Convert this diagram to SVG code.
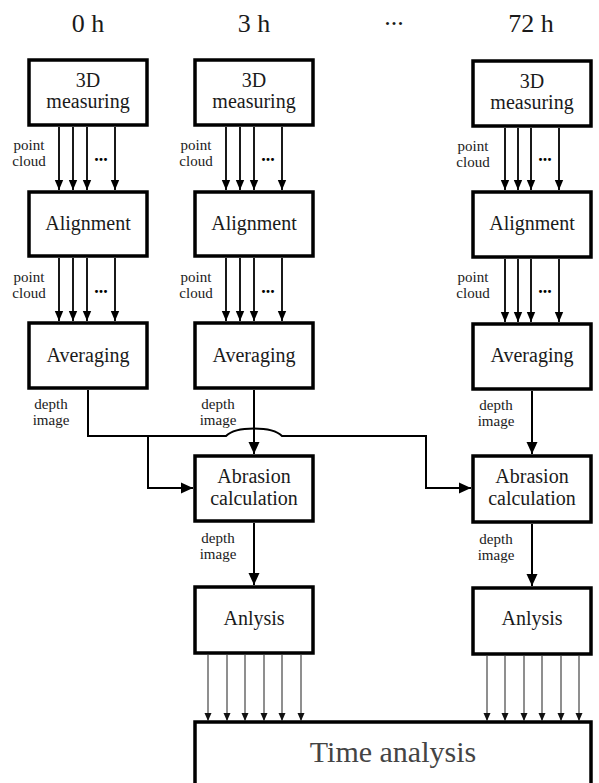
<svg xmlns="http://www.w3.org/2000/svg" width="599" height="783" viewBox="0 0 599 783">
<defs>
<marker id="ah" markerUnits="userSpaceOnUse" markerWidth="12" markerHeight="12" viewBox="0 0 12 12" refX="12" refY="6" orient="auto">
<path d="M0,0.5 L12,6 L0,11.5 Z" fill="#000"/>
</marker>
<marker id="ahs" markerUnits="userSpaceOnUse" markerWidth="10" markerHeight="10" viewBox="0 0 10 10" refX="10" refY="5" orient="auto">
<path d="M0,0.8 L10,5 L0,9.2 Z" fill="#000"/>
</marker>
<marker id="aht" markerUnits="userSpaceOnUse" markerWidth="8" markerHeight="8" viewBox="0 0 8 8" refX="8" refY="4" orient="auto">
<path d="M0,0.5 L8,4 L0,7.5 Z" fill="#111"/>
</marker>
</defs>
<style>
.box{fill:#fff;stroke:#000;stroke-width:3.5}
text{font-family:'Liberation Serif','DejaVu Serif',serif}
.t{font-size:20px;fill:#1a1a1a;text-anchor:middle}
.h{font-size:26px;fill:#1a1a1a;text-anchor:middle}
.s{font-size:15px;fill:#1a1a1a;text-anchor:middle}
.d{font-size:18px;font-weight:bold;fill:#000;text-anchor:middle}
.big{font-size:30px;fill:#444;text-anchor:middle}
.c{fill:none;stroke:#000;stroke-width:2}
.cs{fill:none;stroke:#000;stroke-width:1.8}
.ct{fill:none;stroke:#333;stroke-width:1.1}
</style>

<g id="headers">
<text class="h" x="88" y="32">0 h</text>
<text class="h" x="254" y="32">3 h</text>
<text class="h" x="394" y="25">...</text>
<text class="h" x="531" y="32">72 h</text>
</g>

<!-- Column 1 -->
<g id="meas1"><rect class="box" x="29" y="60" width="118" height="65"/><text class="t" x="88" y="87">3D</text><text class="t" x="88" y="108">measuring</text></g>
<g id="align1"><rect class="box" x="29" y="192" width="118" height="64"/><text class="t" x="88" y="230">Alignment</text></g>
<g id="avg1"><rect class="box" x="29" y="323" width="118" height="65"/><text class="t" x="88" y="362">Averaging</text></g>

<!-- Column 2 -->
<g id="meas2"><rect class="box" x="195" y="60" width="118" height="65"/><text class="t" x="254" y="87">3D</text><text class="t" x="254" y="108">measuring</text></g>
<g id="align2"><rect class="box" x="195" y="192" width="118" height="64"/><text class="t" x="254" y="230">Alignment</text></g>
<g id="avg2"><rect class="box" x="195" y="323" width="118" height="65"/><text class="t" x="254" y="362">Averaging</text></g>
<g id="abr2"><rect class="box" x="195" y="456" width="118" height="65"/><text class="t" x="254" y="483">Abrasion</text><text class="t" x="254" y="505">calculation</text></g>
<g id="anl2"><rect class="box" x="195" y="587" width="118" height="66"/><text class="t" x="254" y="625">Anlysis</text></g>

<!-- Column 3 -->
<g id="meas3"><rect class="box" x="473" y="61" width="118" height="65"/><text class="t" x="532" y="88">3D</text><text class="t" x="532" y="109">measuring</text></g>
<g id="align3"><rect class="box" x="473" y="192" width="118" height="65"/><text class="t" x="532" y="230">Alignment</text></g>
<g id="avg3"><rect class="box" x="473" y="324" width="118" height="65"/><text class="t" x="532" y="362">Averaging</text></g>
<g id="abr3"><rect class="box" x="473" y="456" width="118" height="66"/><text class="t" x="532" y="483">Abrasion</text><text class="t" x="532" y="505">calculation</text></g>
<g id="anl3"><rect class="box" x="473" y="588" width="118" height="66"/><text class="t" x="532" y="625">Anlysis</text></g>

<g id="time"><rect class="box" x="195" y="722" width="396" height="80"/><text class="big" x="393" y="762">Time analysis</text></g>

<g id="labels">
<text class="s" x="29" y="150">point</text><text class="s" x="29" y="166">cloud</text>
<text class="s" x="29" y="282">point</text><text class="s" x="29" y="298">cloud</text>
<text class="s" x="196" y="150">point</text><text class="s" x="196" y="166">cloud</text>
<text class="s" x="196" y="282">point</text><text class="s" x="196" y="298">cloud</text>
<text class="s" x="473" y="151">point</text><text class="s" x="473" y="167">cloud</text>
<text class="s" x="473" y="282">point</text><text class="s" x="473" y="298">cloud</text>
<text class="s" x="51" y="409">depth</text><text class="s" x="51" y="425">image</text>
<text class="s" x="218" y="409">depth</text><text class="s" x="218" y="425">image</text>
<text class="s" x="496" y="410">depth</text><text class="s" x="496" y="426">image</text>
<text class="s" x="218" y="543">depth</text><text class="s" x="218" y="559">image</text>
<text class="s" x="496" y="544">depth</text><text class="s" x="496" y="560">image</text>
<text class="d" x="101" y="161">...</text>
<text class="d" x="101" y="293">...</text>
<text class="d" x="268" y="161">...</text>
<text class="d" x="268" y="293">...</text>
<text class="d" x="545" y="161">...</text>
<text class="d" x="545" y="293">...</text>
</g>

<g id="connectors">
<line class="cs" x1="59" y1="127" x2="59" y2="190" marker-end="url(#ahs)"/>
<line class="cs" x1="73" y1="127" x2="73" y2="190" marker-end="url(#ahs)"/>
<line class="cs" x1="87" y1="127" x2="87" y2="190" marker-end="url(#ahs)"/>
<line class="cs" x1="115" y1="127" x2="115" y2="190" marker-end="url(#ahs)"/>
<line class="cs" x1="59" y1="258" x2="59" y2="321" marker-end="url(#ahs)"/>
<line class="cs" x1="73" y1="258" x2="73" y2="321" marker-end="url(#ahs)"/>
<line class="cs" x1="87" y1="258" x2="87" y2="321" marker-end="url(#ahs)"/>
<line class="cs" x1="115" y1="258" x2="115" y2="321" marker-end="url(#ahs)"/>
<line class="cs" x1="226" y1="127" x2="226" y2="190" marker-end="url(#ahs)"/>
<line class="cs" x1="240" y1="127" x2="240" y2="190" marker-end="url(#ahs)"/>
<line class="cs" x1="254" y1="127" x2="254" y2="190" marker-end="url(#ahs)"/>
<line class="cs" x1="282" y1="127" x2="282" y2="190" marker-end="url(#ahs)"/>
<line class="cs" x1="226" y1="258" x2="226" y2="321" marker-end="url(#ahs)"/>
<line class="cs" x1="240" y1="258" x2="240" y2="321" marker-end="url(#ahs)"/>
<line class="cs" x1="254" y1="258" x2="254" y2="321" marker-end="url(#ahs)"/>
<line class="cs" x1="282" y1="258" x2="282" y2="321" marker-end="url(#ahs)"/>
<line class="cs" x1="505" y1="128" x2="505" y2="190" marker-end="url(#ahs)"/>
<line class="cs" x1="518" y1="128" x2="518" y2="190" marker-end="url(#ahs)"/>
<line class="cs" x1="531" y1="128" x2="531" y2="190" marker-end="url(#ahs)"/>
<line class="cs" x1="559" y1="128" x2="559" y2="190" marker-end="url(#ahs)"/>
<line class="cs" x1="505" y1="259" x2="505" y2="322" marker-end="url(#ahs)"/>
<line class="cs" x1="518" y1="259" x2="518" y2="322" marker-end="url(#ahs)"/>
<line class="cs" x1="531" y1="259" x2="531" y2="322" marker-end="url(#ahs)"/>
<line class="cs" x1="559" y1="259" x2="559" y2="322" marker-end="url(#ahs)"/>
<path class="c" d="M88,390 V436 H226 C236,426 272,426 282,436 H426 V488 H471" marker-end="url(#ah)"/>
<path class="c" d="M148,436 V488 H193" marker-end="url(#ah)"/>
<line class="c" x1="254" y1="390" x2="254" y2="454" marker-end="url(#ah)"/>
<line class="c" x1="532" y1="391" x2="532" y2="454" marker-end="url(#ah)"/>
<line class="c" x1="254" y1="523" x2="254" y2="585" marker-end="url(#ah)"/>
<line class="c" x1="532" y1="524" x2="532" y2="586" marker-end="url(#ah)"/>
<line class="ct" x1="208" y1="655" x2="208" y2="721" marker-end="url(#aht)"/>
<line class="ct" x1="227" y1="655" x2="227" y2="721" marker-end="url(#aht)"/>
<line class="ct" x1="245" y1="655" x2="245" y2="721" marker-end="url(#aht)"/>
<line class="ct" x1="264" y1="655" x2="264" y2="721" marker-end="url(#aht)"/>
<line class="ct" x1="282" y1="655" x2="282" y2="721" marker-end="url(#aht)"/>
<line class="ct" x1="301" y1="655" x2="301" y2="721" marker-end="url(#aht)"/>
<line class="ct" x1="487" y1="656" x2="487" y2="721" marker-end="url(#aht)"/>
<line class="ct" x1="505" y1="656" x2="505" y2="721" marker-end="url(#aht)"/>
<line class="ct" x1="524" y1="656" x2="524" y2="721" marker-end="url(#aht)"/>
<line class="ct" x1="542" y1="656" x2="542" y2="721" marker-end="url(#aht)"/>
<line class="ct" x1="561" y1="656" x2="561" y2="721" marker-end="url(#aht)"/>
<line class="ct" x1="579" y1="656" x2="579" y2="721" marker-end="url(#aht)"/>
</g>
</svg>
